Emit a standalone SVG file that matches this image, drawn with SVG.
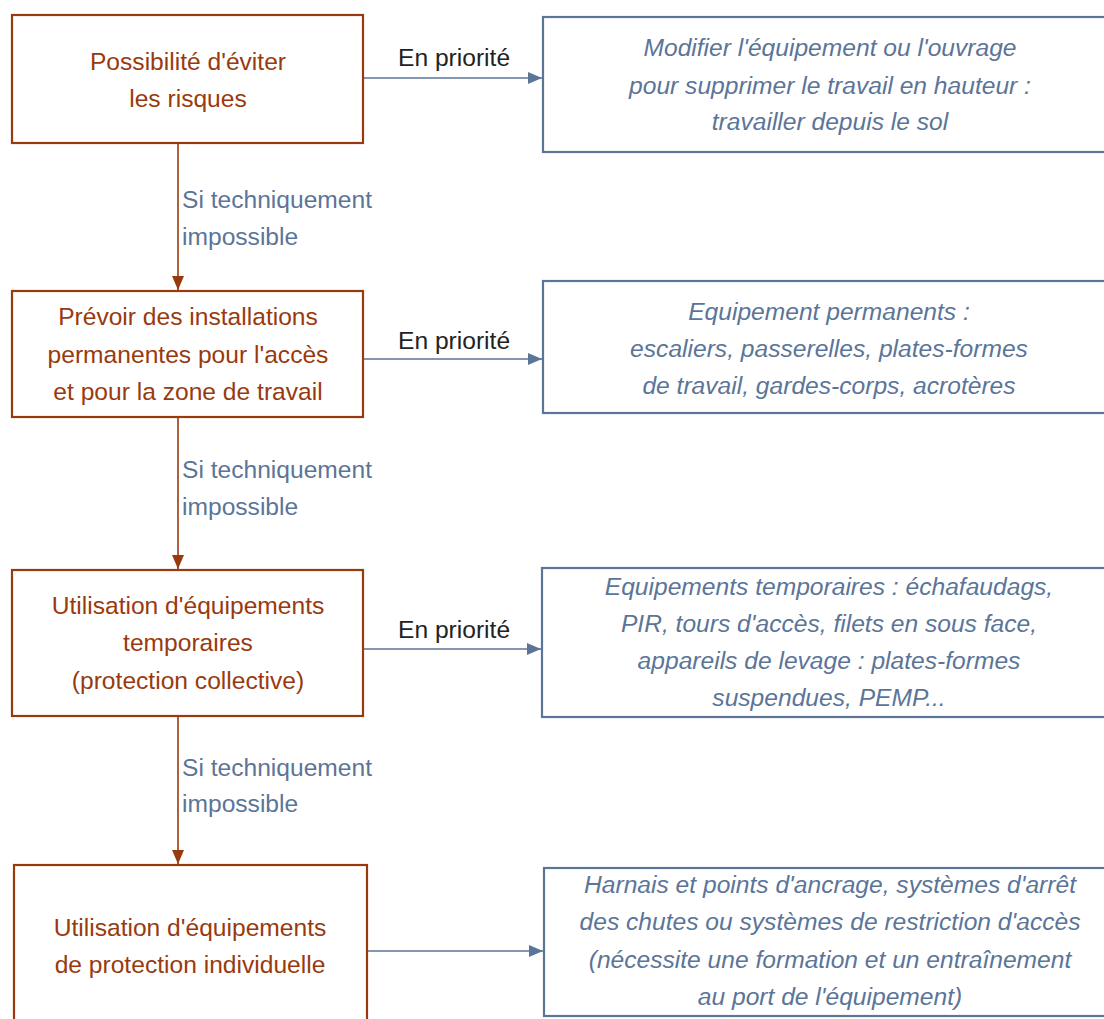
<svg xmlns="http://www.w3.org/2000/svg" width="1104" height="1019" viewBox="0 0 1104 1019">
<style>
text{font-family:"Liberation Sans Narrow","Arial Narrow","Liberation Sans",sans-serif;font-size:24.6px}
.lb{fill:none;stroke:#993a0e;stroke-width:2.2}
.rb{fill:none;stroke:#5b7598;stroke-width:2.2}
.lt{fill:#993a0e;text-anchor:middle}
.rt{fill:#5b7598;text-anchor:middle;font-style:italic}
.ep{fill:#222}
.si{fill:#5b7598}
.cb{stroke:#5b7598;stroke-width:1.6;fill:none}
.cr{stroke:#993a0e;stroke-width:1.6;fill:none}
</style>
<defs>
<marker id="ab" viewBox="0 0 14 12" refX="14" refY="6" markerWidth="14" markerHeight="12" markerUnits="userSpaceOnUse" orient="auto"><path d="M0,0L14,6L0,12z" fill="#5b7598"/></marker>
<marker id="ar" viewBox="0 0 14 12" refX="14" refY="6" markerWidth="14" markerHeight="12" markerUnits="userSpaceOnUse" orient="auto"><path d="M0,0L14,6L0,12z" fill="#993a0e"/></marker>
</defs>
<g id="connectors">
<line class="cb" x1="364" y1="78" x2="542" y2="78" marker-end="url(#ab)"/>
<line class="cb" x1="364" y1="359" x2="542" y2="359" marker-end="url(#ab)"/>
<line class="cb" x1="364" y1="649" x2="541" y2="649" marker-end="url(#ab)"/>
<line class="cb" x1="368" y1="951" x2="543" y2="951" marker-end="url(#ab)"/>
<line class="cr" x1="178" y1="144" x2="178" y2="290" marker-end="url(#ar)"/>
<line class="cr" x1="178" y1="418" x2="178" y2="569" marker-end="url(#ar)"/>
<line class="cr" x1="178" y1="717" x2="178" y2="864" marker-end="url(#ar)"/>
<text class="ep" x="398" y="66">En priorité</text>
<text class="ep" x="398" y="349">En priorité</text>
<text class="ep" x="398" y="638">En priorité</text>
<text class="si" x="182" y="208">Si techniquement</text>
<text class="si" x="182" y="245">impossible</text>
<text class="si" x="182" y="478">Si techniquement</text>
<text class="si" x="182" y="515">impossible</text>
<text class="si" x="182" y="776">Si techniquement</text>
<text class="si" x="182" y="812">impossible</text>
</g>
<g id="n1"><rect class="lb" x="12" y="15" width="351" height="128"/>
<text class="lt" x="188" y="70">Possibilité d'éviter</text><text class="lt" x="188" y="107">les risques</text></g>
<g id="r1"><rect class="rb" x="543" y="17" width="570" height="135"/>
<text class="rt" x="830" y="56">Modifier l'équipement ou l'ouvrage</text><text class="rt" x="830" y="94">pour supprimer le travail en hauteur :</text><text class="rt" x="830" y="130">travailler depuis le sol</text></g>
<g id="n2"><rect class="lb" x="12" y="291" width="351" height="126"/>
<text class="lt" x="188" y="325">Prévoir des installations</text><text class="lt" x="188" y="363">permanentes pour l'accès</text><text class="lt" x="188" y="400">et pour la zone de travail</text></g>
<g id="r2"><rect class="rb" x="543" y="281" width="570" height="132"/>
<text class="rt" x="829" y="320">Equipement permanents :</text><text class="rt" x="829" y="357">escaliers, passerelles, plates-formes</text><text class="rt" x="829" y="394">de travail, gardes-corps, acrotères</text></g>
<g id="n3"><rect class="lb" x="12" y="570" width="351" height="146"/>
<text class="lt" x="188" y="614">Utilisation d'équipements</text><text class="lt" x="188" y="651">temporaires</text><text class="lt" x="188" y="689">(protection collective)</text></g>
<g id="r3"><rect class="rb" x="542" y="568" width="570" height="149"/>
<text class="rt" x="829" y="595">Equipements temporaires : échafaudags,</text><text class="rt" x="829" y="632">PIR, tours d'accès, filets en sous face,</text><text class="rt" x="829" y="669">appareils de levage : plates-formes</text><text class="rt" x="829" y="706">suspendues, PEMP...</text></g>
<g id="n4"><rect class="lb" x="14" y="865" width="353" height="170"/>
<text class="lt" x="190" y="936">Utilisation d'équipements</text><text class="lt" x="190" y="973">de protection individuelle</text></g>
<g id="r4"><rect class="rb" x="544" y="868" width="570" height="148"/>
<text class="rt" x="830" y="893">Harnais et points d'ancrage, systèmes d'arrêt</text><text class="rt" x="830" y="930">des chutes ou systèmes de restriction d'accès</text><text class="rt" x="830" y="968">(nécessite une formation et un entraînement</text><text class="rt" x="830" y="1005">au port de l'équipement)</text></g>
</svg>
